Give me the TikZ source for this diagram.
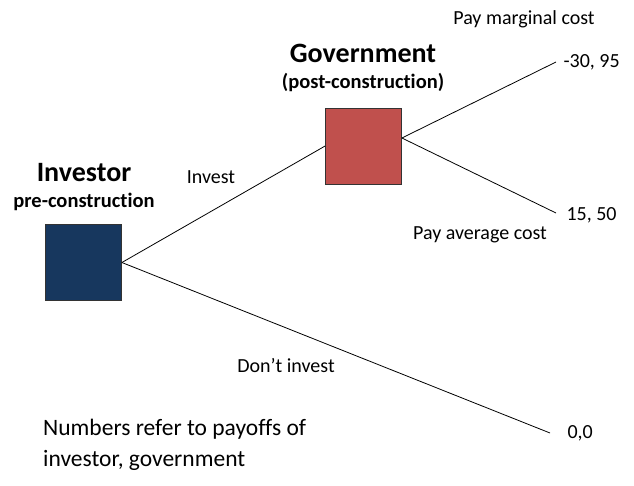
\documentclass[tikz,border=0pt]{standalone}
\usepackage{fontspec}
\setmainfont{Carlito}[Ligatures=NoCommon]
\usepackage{tikz}
\usepackage{color}
\definecolor{invblue}{HTML}{17375E}
\definecolor{govred}{HTML}{C0504D}

\begin{document}
\begin{tikzpicture}[x=1pt, y=-1pt, player_style/.style={draw=black!80, line width=0.8pt, minimum size=76pt, inner sep=0pt},
			edge_style/.style={black, line width=0.8pt},
			big_label/.style={font=\fontsize{28}{32}\selectfont\bfseries},
			sub_label/.style={font=\fontsize{20.5}{24}\selectfont\bfseries},
			move_label/.style={font=\fontsize{20}{24}\selectfont}]
			\useasboundingbox (0,0) rectangle (634,485);
			% players
			\node[player_style, fill=invblue] (inv) at (83.5,262.5) {};
			\node[player_style, fill=govred] (gov) at (363.5,146) {};
			\node[big_label] (inv_name) at (84,173) {Investor};
			\node[sub_label] (inv_sub) at (84,202) {pre-construction};
			\node[big_label] (gov_name) at (363,53) {Government};
			\node[sub_label] (gov_sub) at (363,83) {(post-construction)};
			
			% ends of the branches
			\coordinate (gov_out) at ([yshift=8pt]gov.east);
			\coordinate (marg_end) at (556,62);
			\coordinate (avg_end) at (556,213);
			\coordinate (none_end) at (550,433);
			
			\draw[edge_style] (inv.east) -- (gov.west);
			\draw[edge_style] (inv.east) -- (none_end);
			\draw[edge_style] (gov_out) -- (marg_end);
			\draw[edge_style] (gov_out) -- (avg_end);
			
			% moves and payoffs
			\node[move_label] (invest) at (211,177) {Invest};
			\node[move_label] (dont) at (286,366) {Don’t invest};
			\node[move_label] (marg) at (524,19) {Pay marginal cost};
			\node[move_label] (avg) at (480,235) {Pay average cost};
			\node[move_label, anchor=west] (pay_marg) at (560,62) {-30, 95};
			\node[move_label, anchor=west] (pay_avg) at (563,215) {15, 50};
			\node[move_label, anchor=west] (pay_none) at (564,433) {0,0};
			\node[font=\fontsize{23.5}{31}\selectfont, align=left, anchor=north west, inner sep=0pt] (note) at (43,419) {Numbers refer to payoffs of\\investor, government};
		\end{tikzpicture}
\end{document}
